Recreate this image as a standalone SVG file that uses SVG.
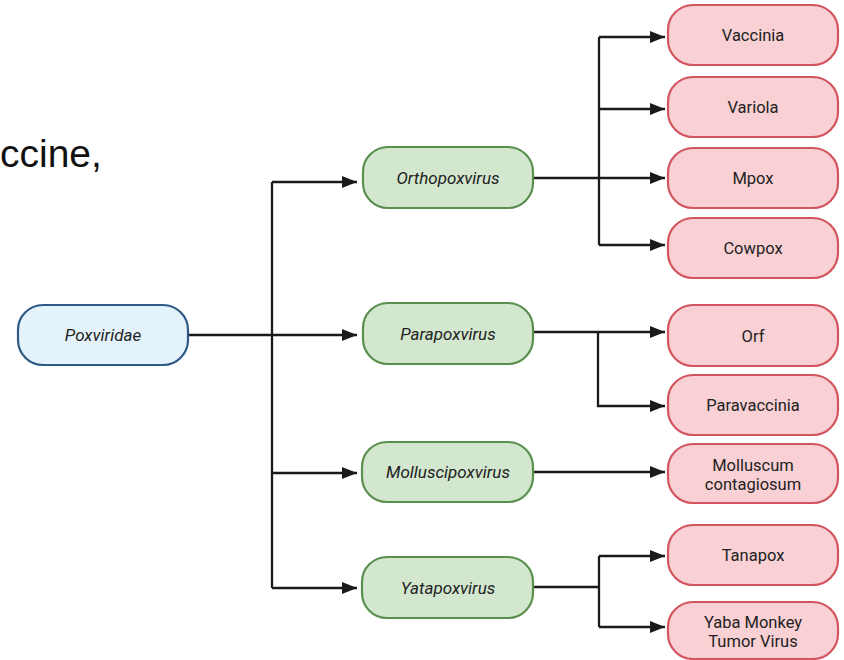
<svg xmlns="http://www.w3.org/2000/svg" width="844" height="660" viewBox="0 0 844 660">
<defs>
<style>
.bg{fill:#ffffff}
.blue{fill:#e4f2fc;stroke:#2d5a85;stroke-width:2.2}
.green{fill:#d3e7cf;stroke:#5b8f4f;stroke-width:2.2}
.red{fill:#f9d0d3;stroke:#d2545e;stroke-width:2.2}
.lbl{font-family:Roboto,"Liberation Sans",sans-serif;font-size:16.5px;fill:#222222;text-anchor:middle}
.it{font-style:italic;font-size:17px}
.conn path{fill:none;stroke:#1a1a1a;stroke-width:2.3}
.slide{font-family:"Liberation Sans",Arial,sans-serif;font-size:39px;fill:#111111}
</style>
<marker id="ah" markerUnits="userSpaceOnUse" markerWidth="15" markerHeight="13" refX="15" refY="6.5" orient="auto">
<path d="M0,0.5 L15,6.5 L0,12.5 z" fill="#1a1a1a"/>
</marker>
</defs>
<rect class="bg" x="0" y="0" width="844" height="660"/>
<text class="slide" x="0" y="167">ccine,</text>

<g class="conn">
<path d="M188,335 H357" marker-end="url(#ah)"/>
<path d="M272,182 V588"/>
<path d="M272,182 H357" marker-end="url(#ah)"/>
<path d="M272,473 H357" marker-end="url(#ah)"/>
<path d="M272,588 H357" marker-end="url(#ah)"/>
<path d="M533,178 H665" marker-end="url(#ah)"/>
<path d="M599,37 V245"/>
<path d="M599,37 H665" marker-end="url(#ah)"/>
<path d="M599,109 H665" marker-end="url(#ah)"/>
<path d="M599,245 H665" marker-end="url(#ah)"/>
<path d="M533,332 H665" marker-end="url(#ah)"/>
<path d="M598,332 V406 H665" marker-end="url(#ah)"/>
<path d="M533,472 H665" marker-end="url(#ah)"/>
<path d="M533,587 H599"/>
<path d="M599,556 V627"/>
<path d="M599,556 H665" marker-end="url(#ah)"/>
<path d="M599,627 H665" marker-end="url(#ah)"/>
</g>

<g id="poxviridae"><rect class="blue" x="18" y="305" width="170" height="60" rx="25"/><text class="lbl it" x="103" y="341">Poxviridae</text></g>

<g id="orthopoxvirus"><rect class="green" x="363" y="147" width="170" height="61" rx="25"/><text class="lbl it" x="448" y="183.5">Orthopoxvirus</text></g>
<g id="parapoxvirus"><rect class="green" x="363" y="303" width="170" height="61" rx="25"/><text class="lbl it" x="448" y="339.5">Parapoxvirus</text></g>
<g id="molluscipoxvirus"><rect class="green" x="362" y="442" width="171" height="60" rx="25"/><text class="lbl it" x="448" y="478">Molluscipoxvirus</text></g>
<g id="yatapoxvirus"><rect class="green" x="362" y="557" width="171" height="61" rx="25"/><text class="lbl it" x="448" y="593.5">Yatapoxvirus</text></g>

<g id="vaccinia"><rect class="red" x="668" y="5" width="170" height="60" rx="25"/><text class="lbl" x="753" y="41">Vaccinia</text></g>
<g id="variola"><rect class="red" x="668" y="77" width="170" height="60" rx="25"/><text class="lbl" x="753" y="113">Variola</text></g>
<g id="mpox"><rect class="red" x="668" y="148" width="170" height="60" rx="25"/><text class="lbl" x="753" y="184">Mpox</text></g>
<g id="cowpox"><rect class="red" x="668" y="218" width="170" height="60" rx="25"/><text class="lbl" x="753" y="254">Cowpox</text></g>
<g id="orf"><rect class="red" x="668" y="305" width="170" height="61" rx="25"/><text class="lbl" x="753" y="341.5">Orf</text></g>
<g id="paravaccinia"><rect class="red" x="668" y="375" width="170" height="60" rx="25"/><text class="lbl" x="753" y="411">Paravaccinia</text></g>
<g id="molluscum"><rect class="red" x="668" y="444" width="170" height="59" rx="25"/><text class="lbl" x="753" y="470.5">Molluscum</text><text class="lbl" x="753" y="489.5">contagiosum</text></g>
<g id="tanapox"><rect class="red" x="668" y="525" width="170" height="60" rx="25"/><text class="lbl" x="753" y="561">Tanapox</text></g>
<g id="yaba"><rect class="red" x="668" y="602" width="170" height="57" rx="25"/><text class="lbl" x="753" y="628">Yaba Monkey</text><text class="lbl" x="753" y="647">Tumor Virus</text></g>
</svg>
